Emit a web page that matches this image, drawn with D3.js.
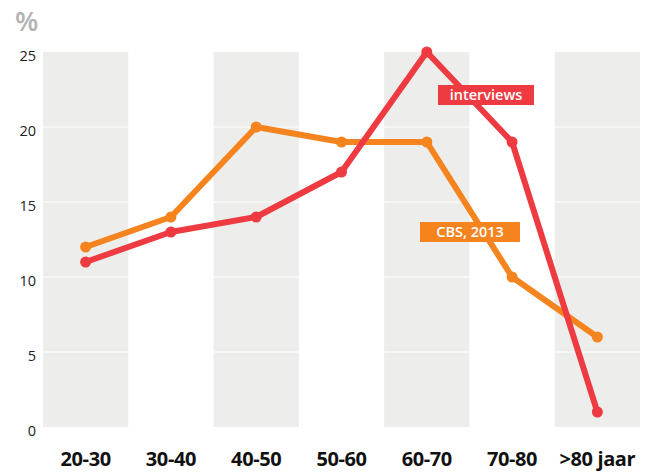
<!DOCTYPE html>
<html><head><meta charset="utf-8">
<script src="https://d3js.org/d3.v7.min.js"></script>
<style>body{margin:0;background:#fff}svg{display:block}</style>
</head><body>
<script>
const categories = ["20-30","30-40","40-50","50-60","60-70","70-80",">80 jaar"];
const interviews = [11,13,14,17,25,19,1];
const cbs = [12,14,20,19,19,10,6];
const yTicks = [0,5,10,15,20,25];

const W=651,H=472;
const svg=d3.select("body").append("svg").attr("width",W).attr("height",H);
const font="'Open Sans', 'Noto Sans', sans-serif";
const x=d3.scaleBand().domain(categories).range([43,640]).padding(0);
const y=d3.scaleLinear().domain([0,25]).range([427,52]);

// bands
svg.selectAll("rect.band").data(categories.filter((d,i)=>i%2===0)).enter().append("rect")
 .attr("x",d=>x(d)).attr("y",y(25)).attr("width",x.bandwidth()).attr("height",y(0)-y(25))
 .attr("fill","#ededeb");
// gridlines
svg.selectAll("line.grid").data(yTicks.filter(d=>d>0&&d<25)).enter().append("line")
 .attr("x1",43).attr("x2",640).attr("y1",d=>y(d)).attr("y2",d=>y(d))
 .attr("stroke","#fff").attr("stroke-width",1.2);

// y axis labels
const ya=svg.append("g").attr("transform","translate(36,0)").call(d3.axisLeft(y).tickValues(yTicks).tickSize(0).tickPadding(0));
ya.select(".domain").remove();
ya.selectAll("text").attr("font-family",font).attr("font-size",14.5).attr("fill","#222").attr("dy","0.32em")
 .attr("transform","translate(0,4)");
svg.append("text").attr("x",15).attr("y",31).text("%").attr("font-family",font).attr("font-size",27)
 .attr("font-weight",600).attr("fill","#b3b3b3");

// x axis labels
const xa=svg.append("g").attr("transform","translate(0,466)").call(d3.axisBottom(x).tickSize(0).tickPadding(0));
xa.select(".domain").remove();
xa.selectAll("text").attr("font-family",font).attr("font-size",20).attr("font-weight",700).attr("fill","#111")
 .attr("dy","0").attr("letter-spacing","-0.4");

const cx=d=>x(d)+x.bandwidth()/2;
function series(vals,color){
  const line=d3.line().x((d,i)=>cx(categories[i])).y(d=>y(d));
  svg.append("path").datum(vals).attr("d",line).attr("fill","none").attr("stroke",color)
   .attr("stroke-width",6).attr("stroke-linejoin","round");
  svg.selectAll(null).data(vals).enter().append("circle")
   .attr("cx",(d,i)=>cx(categories[i])).attr("cy",d=>y(d)).attr("r",5.5).attr("fill",color);
}
const orange="#f5841f", red="#ee3a41";
series(cbs,orange);
series(interviews,red);

function tag(txt,x0,y0,w,h,color){
  svg.append("rect").attr("x",x0).attr("y",y0).attr("width",w).attr("height",h).attr("fill",color);
  svg.append("text").attr("x",x0+w/2).attr("y",y0+h/2).attr("dy","0.36em").attr("text-anchor","middle")
   .attr("font-family",font).attr("font-size",14.5).attr("font-weight",600).attr("fill","#fff").text(txt);
}
tag("interviews",438,85,96,20,red);
tag("CBS, 2013",420,222,100,20,orange);
</script>
</body></html>
